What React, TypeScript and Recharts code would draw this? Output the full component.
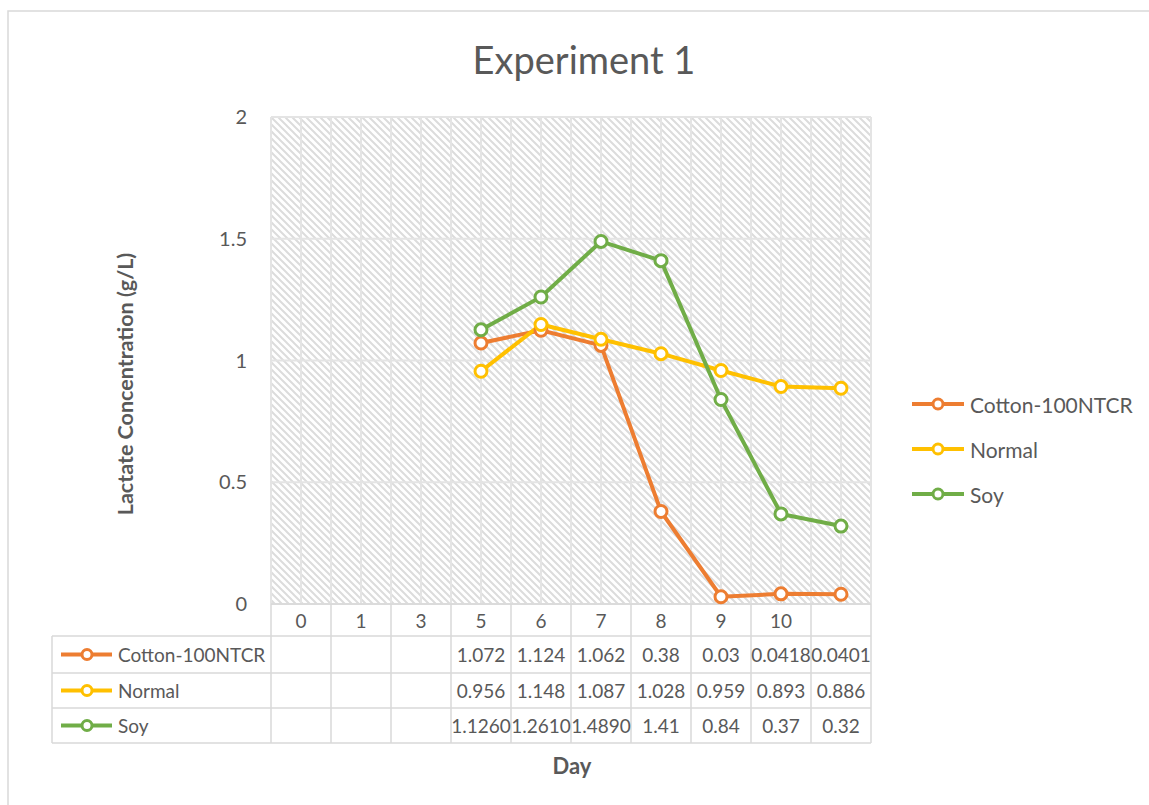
import React from "react";
import { LineChart, Line, XAxis, YAxis, CartesianGrid } from "recharts";

const days = ["0", "1", "3", "5", "6", "7", "8", "9", "10", ""];
const cotton = [null, null, null, 1.072, 1.124, 1.062, 0.38, 0.03, 0.0418, 0.0401];
const normal = [null, null, null, 0.956, 1.148, 1.087, 1.028, 0.959, 0.893, 0.886];
const soy = [null, null, null, 1.126, 1.261, 1.489, 1.41, 0.84, 0.37, 0.32];
// how the data table prints the soy row
const soyTable = ["", "", "", "1.1260", "1.2610", "1.4890", "1.41", "0.84", "0.37", "0.32"];
const yTicks = [0, 0.5, 1, 1.5, 2];

const series = [
  { key: "cotton", name: "Cotton-100NTCR", color: "#ED7D31", values: cotton, text: cotton.map((v) => (v == null ? "" : String(v))) },
  { key: "normal", name: "Normal", color: "#FFC000", values: normal, text: normal.map((v) => (v == null ? "" : String(v))) },
  { key: "soy", name: "Soy", color: "#70AD47", values: soy, text: soyTable },
];

const data = days.map((day, i) => {
  const row: any = { day };
  series.forEach((s) => (row[s.key] = s.values[i]));
  return row;
});

const FONT = "Lato, 'Noto Sans', sans-serif";
const TEXT = "#595959";
const GRID = "#d9d9d9";
const HALF = 30; // half a category width
const ROWS = [0, 32, 69, 104, 139]; // table row edges below the axis
const TABLE_LEFT = 52;

const TableTick = (props: any) => {
  const { x, y, payload, index } = props;
  const i = payload?.index ?? index;
  const mids = ROWS.slice(0, -1).map((r, k) => y + (r + ROWS[k + 1]) / 2);
  return (
    <g>
      <line x1={x + HALF} x2={x + HALF} y1={y} y2={y + ROWS[4]} stroke={GRID} strokeWidth={1.5} />
      {i === 0 && <line x1={x - HALF} x2={x - HALF} y1={y} y2={y + ROWS[4]} stroke={GRID} strokeWidth={1.5} />}
      {ROWS.slice(1).map((r) => (
        <line key={r} x1={x - HALF} x2={x + HALF} y1={y + r} y2={y + r} stroke={GRID} strokeWidth={1.5} />
      ))}
      <text x={x} y={mids[0]} textAnchor="middle" dominantBaseline="central" fill={TEXT} fontSize={19} fontFamily={FONT}>
        {payload.value}
      </text>
      {series.map((s, k) => (
        <text key={s.key} x={x} y={mids[k + 1]} textAnchor="middle" dominantBaseline="central" fill={TEXT} fontSize={19} fontFamily={FONT}>
          {s.text[i]}
        </text>
      ))}
      {i === 0 && (
        <g>
          <line x1={TABLE_LEFT} x2={TABLE_LEFT} y1={y + ROWS[1]} y2={y + ROWS[4]} stroke={GRID} strokeWidth={1.5} />
          {ROWS.slice(1).map((r) => (
            <line key={r} x1={TABLE_LEFT} x2={x - HALF} y1={y + r} y2={y + r} stroke={GRID} strokeWidth={1.5} />
          ))}
          {series.map((s, k) => (
            <g key={s.key}>
              <line x1={61} x2={112} y1={mids[k + 1]} y2={mids[k + 1]} stroke={s.color} strokeWidth={4} />
              <circle cx={87} cy={mids[k + 1]} r={5} fill="#fff" stroke={s.color} strokeWidth={3} />
              <text x={118} y={mids[k + 1]} dominantBaseline="central" fill={TEXT} fontSize={19} fontFamily={FONT}>
                {s.name}
              </text>
            </g>
          ))}
        </g>
      )}
    </g>
  );
};

const App = () => {
  return (
    <div style={{ position: "absolute", left: 0, top: 0, width: 1149, height: 805, background: "#fff", fontFamily: FONT }}>
      <LineChart width={1149} height={805} data={data} margin={{ top: 117, right: 278, left: 90, bottom: 62 }}>
        <CartesianGrid
          stroke="#e4e4e4"
          strokeWidth={2}
          fill="url(#hatch)"
          fillOpacity={1}
          verticalCoordinatesGenerator={({ offset }: any) =>
            Array.from({ length: 21 }, (_, k) => offset.left + (k * offset.width) / 20)
          }
        />
        <XAxis
          dataKey="day"
          interval={0}
          tickLine={false}
          tickSize={0}
          tickMargin={0}
          padding={{ left: HALF, right: HALF }}
          height={139}
          axisLine={{ stroke: GRID, strokeWidth: 1.5 }}
          tick={(p: any) => <TableTick {...p} />}
        />
        <YAxis
          domain={[0, 2]}
          ticks={yTicks}
          axisLine={false}
          tickLine={false}
          width={181}
          tickMargin={18}
          tick={{ fill: TEXT, fontSize: 20, fontFamily: FONT }}
        />
        {series.map((s) => (
          <Line
            key={s.key}
            dataKey={s.key}
            name={s.name}
            type="linear"
            stroke={s.color}
            strokeWidth={4}
            dot={{ r: 6, fill: "#fff", stroke: s.color, strokeWidth: 3 }}
            activeDot={false}
            isAnimationActive={false}
          />
        ))}
      </LineChart>
      <svg width={1149} height={805} style={{ position: "absolute", left: 0, top: 0, pointerEvents: "none" }}>
        <defs>
          <pattern id="hatch" width={7} height={7} patternUnits="userSpaceOnUse">
            <path d="M-1,-1 L8,8 M-1,6 L1,8 M6,-1 L8,1" stroke="#dcdcdc" strokeWidth={2} />
          </pattern>
        </defs>
        <path d="M8,805 L8,11 L1149,11" fill="none" stroke={GRID} strokeWidth={1.5} />
        <text x={584} y={59} textAnchor="middle" dominantBaseline="central" fill={TEXT} fontSize={38} fontFamily={FONT}>
          Experiment 1
        </text>
        <text
          x={125}
          y={384}
          transform="rotate(-90 125 384)"
          textAnchor="middle"
          dominantBaseline="central"
          fill={TEXT}
          fontSize={21.5}
          fontWeight="bold"
          fontFamily={FONT}
        >
          Lactate Concentration (g/L)
        </text>
        <text x={572} y={765} textAnchor="middle" dominantBaseline="central" fill={TEXT} fontSize={22} fontWeight="bold" fontFamily={FONT}>
          Day
        </text>
        {series.map((s, k) => {
          const cy = 404 + k * 45;
          return (
            <g key={s.key}>
              <line x1={912} x2={964} y1={cy} y2={cy} stroke={s.color} strokeWidth={4} />
              <circle cx={938} cy={cy} r={5} fill="#fff" stroke={s.color} strokeWidth={3} />
              <text x={970} y={cy} dominantBaseline="central" fill={TEXT} fontSize={21} fontFamily={FONT}>
                {s.name}
              </text>
            </g>
          );
        })}
      </svg>
    </div>
  );
};

export default App;
